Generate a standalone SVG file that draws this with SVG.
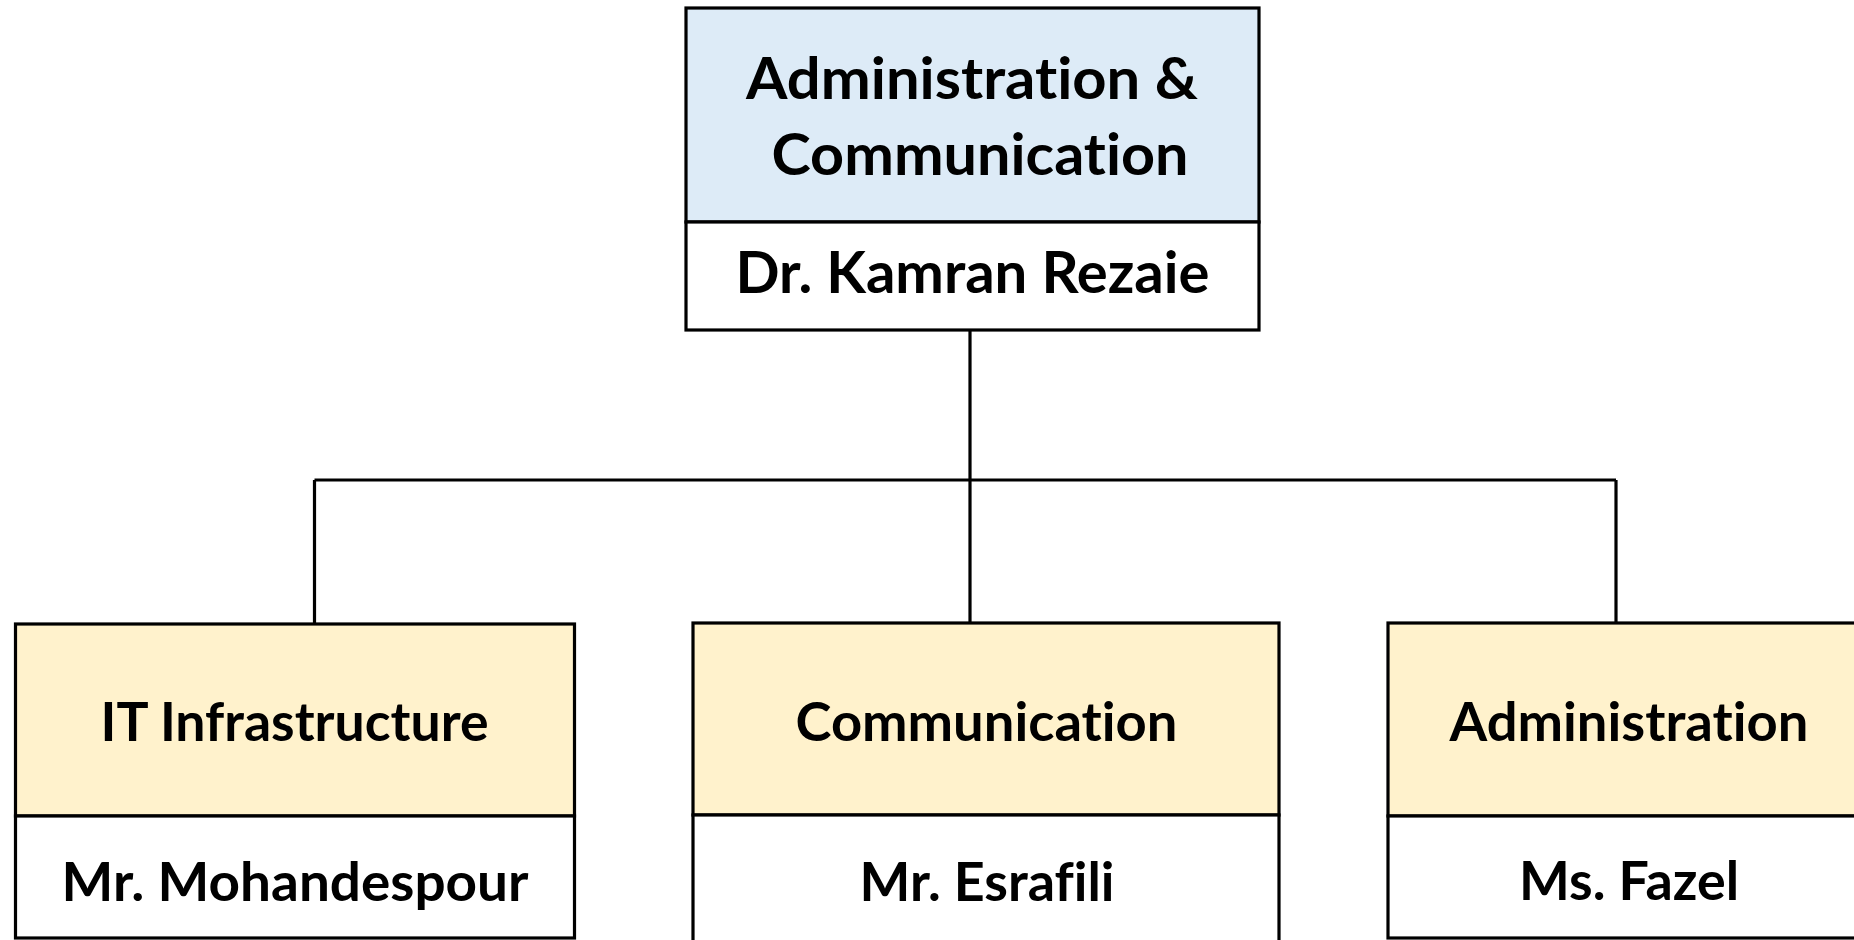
<svg xmlns="http://www.w3.org/2000/svg" width="1854" height="940" viewBox="0 0 1854 940">
<style>
.box{stroke:#000;stroke-width:3.2}
.head{fill:#DDEBF7}
.sub{fill:#FFF2CC}
.name{fill:#fff}
.t{font-family:Lato,"Open Sans","Liberation Sans",sans-serif;font-weight:bold;fill:#000;text-anchor:middle;font-variant-ligatures:none;font-feature-settings:"liga" 0,"clig" 0}
.lg{font-size:58px}
.md{font-size:53px}
.conn{stroke:#000;stroke-width:3.2;fill:none}
</style>
<rect width="1854" height="940" fill="#fff"/>
<g id="connectors">
<line class="conn" x1="970" y1="330" x2="970" y2="624"/>
<line class="conn" x1="314.5" y1="480" x2="1616" y2="480"/>
<polyline class="conn" points="314.5,480 314.5,624"/>
<polyline class="conn" points="1616,480 1616,624"/>
</g>
<g id="node-top">
<rect class="box head" x="686" y="8" width="573" height="214"/>
<rect class="box name" x="686" y="222" width="573" height="108"/>
<text class="t lg" x="972" y="99" textLength="452" lengthAdjust="spacingAndGlyphs">Administration &amp;</text>
<text class="t lg" x="980" y="175" textLength="417" lengthAdjust="spacingAndGlyphs">Communication</text>
<text class="t lg" x="972.5" y="293" textLength="474" lengthAdjust="spacingAndGlyphs">Dr. Kamran Rezaie</text>
</g>
<g id="node-it">
<rect class="box sub" x="15.5" y="624" width="559" height="192"/>
<rect class="box name" x="15.5" y="816" width="559" height="122"/>
<text class="t md" x="294.5" y="741" textLength="388" lengthAdjust="spacingAndGlyphs">IT Infrastructure</text>
<text class="t md" x="295" y="901" textLength="467" lengthAdjust="spacingAndGlyphs">Mr. Mohandespour</text>
</g>
<g id="node-comm">
<rect class="box sub" x="693" y="623" width="586" height="192"/>
<rect class="box name" x="693" y="815" width="586" height="130"/>
<text class="t md" x="986.5" y="741" textLength="382" lengthAdjust="spacingAndGlyphs">Communication</text>
<text class="t md" x="987" y="901" textLength="255" lengthAdjust="spacingAndGlyphs">Mr. Esrafili</text>
</g>
<g id="node-admin">
<rect class="box sub" x="1388" y="623" width="490" height="193"/>
<rect class="box name" x="1388" y="816" width="490" height="122"/>
<text class="t md" x="1629" y="741" textLength="359" lengthAdjust="spacingAndGlyphs">Administration</text>
<text class="t md" x="1629" y="900" textLength="220" lengthAdjust="spacingAndGlyphs">Ms. Fazel</text>
</g>
</svg>
